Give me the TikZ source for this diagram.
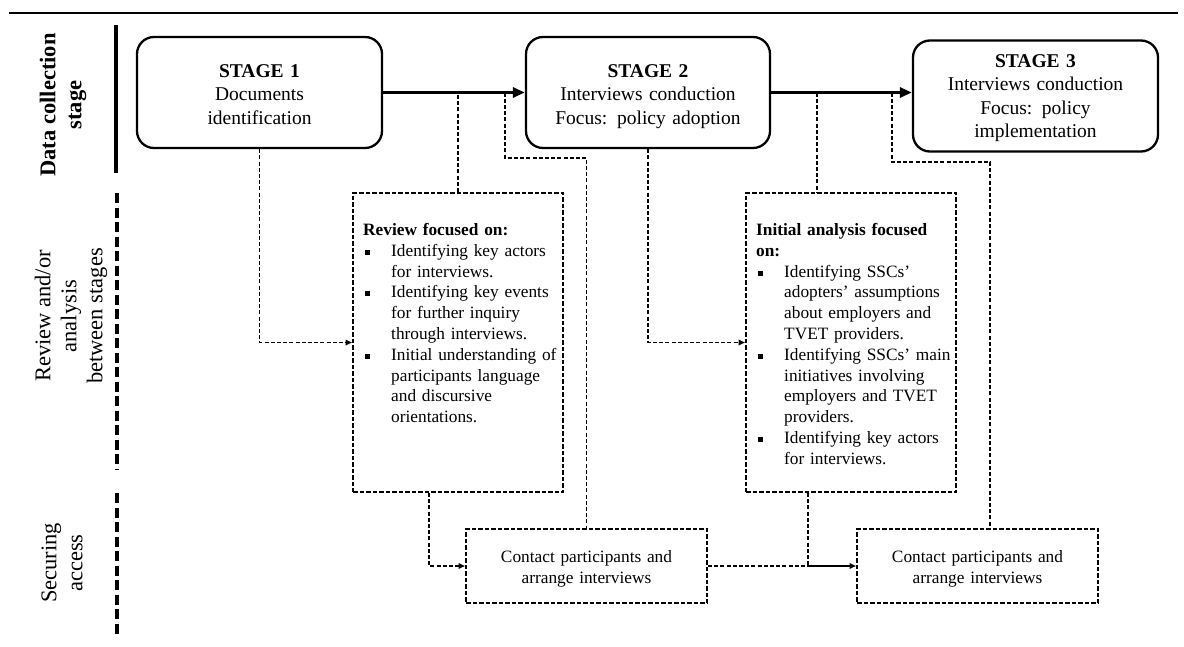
\documentclass[tikz,border=0pt]{standalone}
\usepackage{fontspec}
\setmainfont{Liberation Serif}
\usetikzlibrary{arrows.meta,calc}

% bullet and continuation indent for the list boxes
\newcommand{\bitem}{\makebox[28pt][l]{\hspace{1.5pt}\rule[1.5pt]{5pt}{5pt}}}
\newcommand{\bcont}{\hspace*{28pt}}

\begin{document}
\begin{tikzpicture}[x=1pt,y=-1pt,
  stagebox/.style={draw, line width=2.3pt, rounded corners=17pt, inner sep=0pt},
  stagetext/.style={anchor=base, inner sep=0pt, text width=240pt, align=center,
    font=\fontsize{19.5}{23.5}\selectfont},
  dbox/.style={draw, line width=2pt, dash pattern=on 4.5pt off 2pt},
  link/.style={line width=1.7pt, dash pattern=on 4pt off 2.2pt},
  linkarrow/.style={link, -{Triangle[length=6.5pt,width=5.5pt]}},
  flow/.style={line width=2.9pt, -{Triangle[length=12pt,width=10pt]}},
  bodytext/.style={font=\fontsize{17.3}{20.8}\selectfont},
  listtext/.style={bodytext, anchor=base west, inner sep=0pt, text width=200pt, align=left},
  boxtext/.style={bodytext, anchor=base, inner sep=0pt, text width=236pt, align=center},
  lanelabel/.style={rotate=90, align=center, font=\fontsize{22.5}{26}\selectfont},
  lanerule/.style={line width=4pt},
  lanedash/.style={line width=4pt, dash pattern=on 10pt off 4.5pt}
]
\useasboundingbox (0,0) rectangle (1184,646);

% top rule
\draw[line width=1.2pt] (9,13) -- (1178,13);

% lane labels and separators
\node[lanelabel, font=\fontsize{22.5}{26}\selectfont\bfseries] (l1) at (63,105) {Data collection\\stage};
\node[lanelabel] (l2) at (71,316) {Review and/or\\analysis\\between stages};
\node[lanelabel] (l3) at (62,563) {Securing\\access};
\draw[lanerule] (116,25) -- (116,173);
\draw[lanedash] (117,193) -- (117,470);
\draw[lanedash] (117,493) -- (117,637);

% stages
\node[stagebox, minimum width=245, minimum height=111] (s1) at (259.5,92.5) {};
\node[stagetext] (s1t) at (259.5,77) {\textbf{STAGE 1}\\Documents\\identification};
\node[stagebox, minimum width=244, minimum height=111] (s2) at (648,92.5) {};
\node[stagetext] (s2t) at (648,77) {\textbf{STAGE 2}\\Interviews conduction\\Focus: policy adoption};
\node[stagebox, minimum width=245, minimum height=111] (s3) at (1035.5,96) {};
\node[stagetext] (s3t) at (1035.5,67) {\textbf{STAGE 3}\\Interviews conduction\\Focus: policy\\implementation};

% review / analysis boxes
\node[dbox, minimum width=210, minimum height=299] (rev) at (458,342.5) {};
\node[listtext] (revtext) at (363,235.5) {\textbf{Review focused on:}\\
  \bitem Identifying key actors\\
  \bcont for interviews.\\
  \bitem Identifying key events\\
  \bcont for further inquiry\\
  \bcont through interviews.\\
  \bitem Initial understanding of\\
  \bcont participants language\\
  \bcont and discursive\\
  \bcont orientations.};

\node[dbox, minimum width=210, minimum height=299] (ana) at (851,342.5) {};
\node[listtext] (anatext) at (756,235.5) {\textbf{Initial analysis focused}\\
  \textbf{on:}\\
  \bitem Identifying SSCs’\\
  \bcont adopters’ assumptions\\
  \bcont about employers and\\
  \bcont TVET providers.\\
  \bitem Identifying SSCs’ main\\
  \bcont initiatives involving\\
  \bcont employers and TVET\\
  \bcont providers.\\
  \bitem Identifying key actors\\
  \bcont for interviews.};

% securing access boxes
\node[dbox, minimum width=241, minimum height=74] (c1) at (586.5,566) {};
\node[boxtext] (c1t) at (586.5,562.5) {Contact participants and\\arrange interviews};
\node[dbox, minimum width=241, minimum height=74] (c2) at (977.5,566) {};
\node[boxtext] (c2t) at (977.5,562.5) {Contact participants and\\arrange interviews};

% main flow
\draw[flow] (s1.east) -- (s2.west);
\draw[flow] (s2.east) -- (s2.east -| s3.west);

% dashed links
\draw[linkarrow] (s1.south) |- (rev.west);
\draw[link] (rev.north) -- (rev.north |- s1.east);
\coordinate (k1) at (505,158);
\draw[link] (k1 |- s1.east) -- (k1) -| (c1.north);
\coordinate (k5) at (429,0);
\draw[linkarrow] (k5 |- rev.south) |- (c1.west);

\draw[linkarrow] (s2.south) |- (ana.west);
\coordinate (k2) at (817,0);
\draw[link] (k2 |- s2.east) -- (k2 |- ana.north);
\coordinate (k3) at (892,162);
\coordinate (k4) at (990,162);
\draw[link] (k3 |- s2.east) -- (k3) -- (k4) -- (k4 |- c2.north);

\coordinate (j) at (808,566);
\draw[link] (c1.east) -- (j);
\draw[link] (j |- ana.south) -- (j);
\draw[line width=1.7pt, -{Triangle[length=6.5pt,width=5.5pt]}] (j) -- (c2.west);
\end{tikzpicture}
\end{document}
